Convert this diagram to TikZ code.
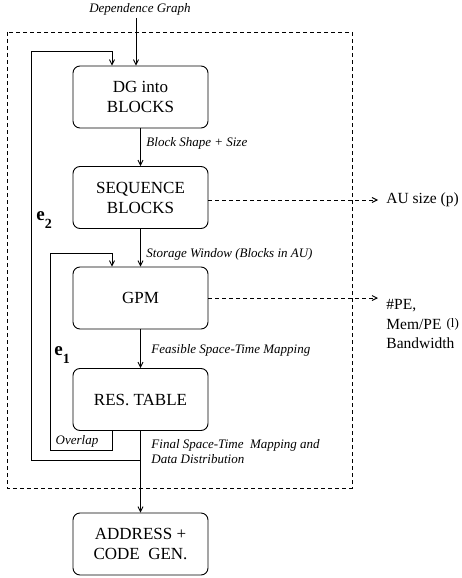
\documentclass[tikz,border=0pt]{standalone}
\usepackage{fontspec}
\setmainfont{Liberation Serif}
\usetikzlibrary{arrows.meta}

\begin{document}
\begin{tikzpicture}[x=1pt, y=-1pt, line width=0.9pt,
  >={Straight Barb[length=5pt,width=5pt]},
  stage/.style={draw, rounded corners=7pt, minimum width=135pt, minimum height=62pt,
    align=center, font=\fontsize{17}{20}\selectfont},
  flow/.style={font=\fontsize{13}{15}\selectfont\itshape, align=left, inner sep=0pt},
  result/.style={font=\fontsize{15.5}{19.5}\selectfont, align=left, inner sep=0pt},
  side/.style={->, dash pattern=on 4pt off 3pt},
  loopname/.style={font=\fontsize{19}{19}\selectfont\bfseries, inner sep=0pt, anchor=base west}]
\useasboundingbox (0,0) rectangle (461,578);
\draw[dash pattern=on 4pt off 3pt] (7,32) rectangle (352,488);

\node[stage] (blocks) at (140.5,97) {DG into\\BLOCKS};
\node[stage] (seq) at (140.5,197.5) {SEQUENCE\\BLOCKS};
\node[stage] (gpm) at (140.5,298) {GPM};
\node[stage] (res) at (140.5,399.5) {RES. TABLE};
\node[stage] (code) at (140.5,544) {ADDRESS +\\CODE~~GEN.};

\node[flow] (dg) at (140,9) {Dependence Graph};
\draw[->] ([xshift=-4pt]dg.south) ++(0,3) -- ([xshift=-4.5pt]blocks.north);

\draw[->] (blocks) -- (seq);
\draw[->] (seq) -- (gpm);
\draw[->] (gpm) -- (res);
\draw[->] (res) -- (code);

\node[flow, anchor=west] (shape) at (146,143) {Block Shape + Size};
\node[flow, anchor=west] (window) at (146,254) {Storage Window (Blocks in AU)};
\node[flow, anchor=west] (feasible) at (151,350) {Feasible Space-Time Mapping};
\node[flow, anchor=north west] (final) at (151,439) {Final Space-Time~~Mapping and\\Data Distribution};

% inner loop e1
\draw[->] ([xshift=-28.5pt]res.south) |- (50,450) -- (50,253) -| ([xshift=-28.5pt]gpm.north);
\node[flow] (overlap) at (77,441) {Overlap};
\node[loopname] (e1) at (54,355) {e\raisebox{-8pt}{\fontsize{14}{14}\selectfont 1}};

% outer loop e2
\coordinate (join) at (res.south |- 0,460);
\draw[->] (join) -- (31,460) -- (31,51) -| ([xshift=-28.5pt]blocks.north);
\node[loopname] (e2) at (36,220) {e\raisebox{-8pt}{\fontsize{14}{14}\selectfont 2}};

% results
\node[result, anchor=west] (au) at (386,200) {AU size (p)};
\draw[side] (seq.east |- au.west) -- ([xshift=-8pt]au.west);
\node[result, anchor=north west] (pe) at (386,299) {\#PE,\\Mem/PE\hspace{5pt}\raisebox{1.5pt}{\fontsize{13}{13}\selectfont(l)}\\Bandwidth};
\draw[side] (gpm.east) -- ([xshift=-8pt]gpm.east -| pe.west);
\end{tikzpicture}
\end{document}
